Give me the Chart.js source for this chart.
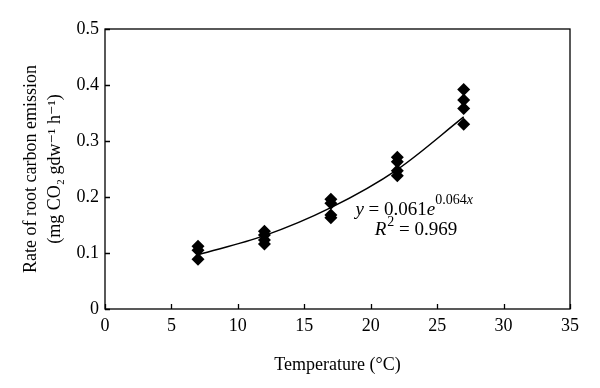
<!DOCTYPE html>
<html><head><meta charset="utf-8">
<script src="https://cdn.jsdelivr.net/npm/chart.js@4/dist/chart.umd.min.js"></script>
<style>html,body{margin:0;padding:0;background:#fff}</style>
</head><body>
<canvas id="c" width="600" height="388"></canvas>
<script>
const temperatures = [7, 7, 7, 12, 12, 12, 12, 17, 17, 17, 17, 22, 22, 22, 22, 27, 27, 27, 27];
const emissionRates = [0.112, 0.105, 0.089, 0.139, 0.132, 0.123, 0.116, 0.196, 0.189, 0.168, 0.163, 0.271, 0.263, 0.247, 0.238, 0.392, 0.373, 0.358, 0.33];
const fitX = [7, 12, 17, 22, 27];
const fitY = [0.097, 0.131, 0.181, 0.249, 0.343];
const xTicks = [0, 5, 10, 15, 20, 25, 30, 35];
const yTicks = [0, 0.1, 0.2, 0.3, 0.4, 0.5];
const yTickLabels = ['0', '0.1', '0.2', '0.3', '0.4', '0.5'];
const xTitle = 'Temperature (°C)';
const yTitle = ['Rate of root carbon emission', '(mg CO₂ gdw⁻¹ h⁻¹)'];
const eqPos = [18.85, 0.168];
const r2Pos = [20.3, 0.132];

const FONT = "'Liberation Serif', 'DejaVu Serif', serif";

const framePlugin = {
  id: 'frame',
  afterDraw(chart) {
    const {ctx, chartArea: a, scales: {x, y}} = chart;
    ctx.save();
    ctx.strokeStyle = '#000';
    ctx.lineWidth = 1.3;
    ctx.strokeRect(a.left, a.top, a.right - a.left, a.bottom - a.top);
    ctx.beginPath();
    xTicks.forEach(v => {
      const px = Math.round(x.getPixelForValue(v)) + 0.5;
      ctx.moveTo(px, a.bottom); ctx.lineTo(px, a.bottom - 5);
    });
    yTicks.forEach(v => {
      const py = Math.round(y.getPixelForValue(v)) + 0.5;
      ctx.moveTo(a.left, py); ctx.lineTo(a.left + 5, py);
    });
    ctx.stroke();
    // equation
    ctx.fillStyle = '#000';
    ctx.textBaseline = 'alphabetic';
    ctx.textAlign = 'left';
    let px = x.getPixelForValue(eqPos[0]);
    let py = y.getPixelForValue(eqPos[1]);
    const parts = [
      ['italic 19px ' + FONT, 'y', 0],
      ['19px ' + FONT, ' = 0.061', 0],
      ['italic 19px ' + FONT, 'e', 0],
      ['14px ' + FONT, '0.064', -11],
      ['italic 14px ' + FONT, 'x', -11]
    ];
    parts.forEach(([f, t, dy]) => {
      ctx.font = f; ctx.fillText(t, px, py + dy); px += ctx.measureText(t).width;
    });
    px = x.getPixelForValue(r2Pos[0]);
    py = y.getPixelForValue(r2Pos[1]);
    const parts2 = [
      ['italic 19px ' + FONT, 'R', 0],
      ['14px ' + FONT, '2', -9],
      ['19px ' + FONT, ' = 0.969', 0]
    ];
    parts2.forEach(([f, t, dy]) => {
      ctx.font = f; ctx.fillText(t, px, py + dy); px += ctx.measureText(t).width + (t === 'R' ? 1 : 0);
    });
    ctx.restore();
  }
};

new Chart(document.getElementById('c'), {
  type: 'scatter',
  data: {
    datasets: [
      {
        type: 'line',
        data: fitX.map((v, i) => ({x: v, y: fitY[i]})),
        borderColor: '#000',
        borderWidth: 1.5,
        pointRadius: 0,
        cubicInterpolationMode: 'monotone',
        fill: false
      },
      {
        data: temperatures.map((v, i) => ({x: v, y: emissionRates[i]})),
        pointStyle: 'rectRot',
        pointRadius: 6.5,
        backgroundColor: '#000',
        borderColor: '#000',
        borderWidth: 0
      }
    ]
  },
  options: {
    responsive: false,
    animation: false,
    devicePixelRatio: 1,
    layout: {padding: {top: 29, right: 30, left: 16, bottom: 8}},
    plugins: {legend: {display: false}, tooltip: {enabled: false}},
    scales: {
      x: {
        type: 'linear', min: 0, max: 35,
        afterBuildTicks: s => { s.ticks = xTicks.map(v => ({value: v})); },
        afterFit: s => { s.height = 71; },
        grid: {display: false, drawTicks: false},
        border: {display: false},
        ticks: {color: '#000', font: {family: FONT, size: 18}, padding: 6, maxRotation: 0, autoSkip: false},
        title: {display: true, text: xTitle, color: '#000', font: {family: FONT, size: 18}, padding: {top: 3}}
      },
      y: {
        type: 'linear', min: 0, max: 0.5,
        afterBuildTicks: s => { s.ticks = yTicks.map(v => ({value: v})); },
        afterFit: s => { s.width = 89; },
        grid: {display: false, drawTicks: false},
        border: {display: false},
        ticks: {color: '#000', font: {family: FONT, size: 18}, padding: 6, autoSkip: false,
          callback: (v, i) => yTickLabels[i]},
        title: {display: true, text: yTitle, color: '#000', font: {family: FONT, size: 18, lineHeight: 1.3}, padding: {bottom: 4}}
      }
    }
  },
  plugins: [framePlugin]
});
</script>
</body></html>
